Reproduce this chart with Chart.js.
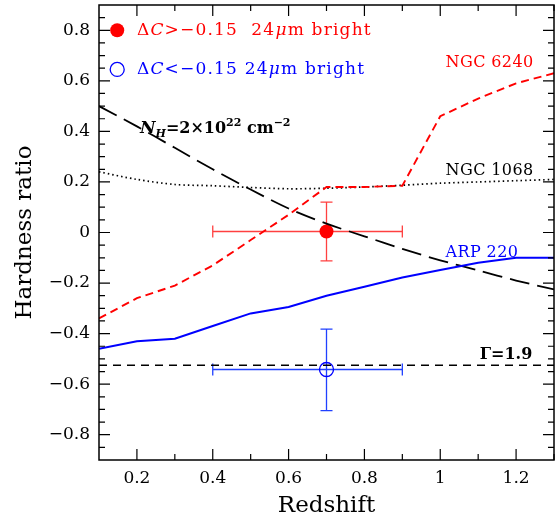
<!DOCTYPE html>
<html>
<head>
<meta charset="utf-8">
<script src="https://cdn.jsdelivr.net/npm/chart.js@4.4.1/dist/chart.umd.min.js"></script>
<style>
  html, body { margin: 0; padding: 0; background: #fff; overflow: hidden; }
  canvas { display: block; }
</style>
</head>
<body>
<canvas id="chart" width="555" height="516"></canvas>
<script>
// Data
const REDSHIFT = [0.1, 0.2, 0.3, 0.4, 0.5, 0.6, 0.7, 0.8, 0.9, 1.0, 1.1, 1.2, 1.3];
const NGC6240 = [-0.34, -0.26, -0.21, -0.13, -0.03, 0.07, 0.18, 0.18, 0.185, 0.46, 0.53, 0.59, 0.63];
const NGC1068 = [0.24, 0.21, 0.19, 0.185, 0.178, 0.173, 0.175, 0.18, 0.187, 0.195, 0.2, 0.205, 0.21];
const ARP220 = [-0.46, -0.43, -0.42, -0.37, -0.32, -0.295, -0.25, -0.215, -0.178, -0.148, -0.12, -0.1, -0.1];
const NH_MODEL = [0.5, 0.42, 0.335, 0.25, 0.17, 0.095, 0.035, -0.015, -0.065, -0.11, -0.15, -0.19, -0.225];
const GAMMA_X = [0.1, 1.3];
const GAMMA_Y = [-0.525, -0.525];

const BRIGHT = [0.7, 0.004];
const BRIGHT_XERR = [0.4, 0.9];
const BRIGHT_YERR = [-0.112, 0.12];
const FAINT = [0.7, -0.542];
const FAINT_XERR = [0.4, 0.9];
const FAINT_YERR = [-0.705, -0.382];

const X_TICKS = [0.2, 0.4, 0.6, 0.8, 1, 1.2];
const Y_TICKS = [-0.8, -0.6, -0.4, -0.2, 0, 0.2, 0.4, 0.6, 0.8];

const SERIF = "'DejaVu Serif', serif";
const RED = "#ff0000";
const BLUE = "#0000ff";

const toXY = (xs, ys) => xs.map((x, i) => ({ x, y: ys[i] }));
const fmt = (v) => (v < 0 ? "\u2212" + String(-v) : String(v));

// draw a run of text pieces with their own fonts / offsets
function drawRich(ctx, parts, x, y, color, spacing) {
  ctx.save();
  ctx.fillStyle = color;
  ctx.textBaseline = "alphabetic";
  ctx.textAlign = "left";
  ctx.letterSpacing = (spacing || 0) + "px";
  let cx = x;
  parts.forEach(([text, font, dy]) => {
    ctx.font = font;
    ctx.fillText(text, cx, y + (dy || 0));
    cx += ctx.measureText(text).width;
  });
  ctx.restore();
}

// keep the plot box where the figure has it
function noPad(s) {
  s.paddingTop = 0;
  s.paddingBottom = 0;
  s.paddingLeft = 0;
  s.paddingRight = 0;
}

const framePlugin = {
  id: "frame",
  beforeDatasetsDraw(chart) {
    const { ctx, scales } = chart;
    const xs = scales.x, ys = scales.y;
    // error bars
    const bars = [
      [BRIGHT, BRIGHT_XERR, BRIGHT_YERR, "#ff4040"],
      [FAINT, FAINT_XERR, FAINT_YERR, "#2040ff"],
    ];
    ctx.save();
    ctx.lineWidth = 1.3;
    bars.forEach(([p, xe, ye, col]) => {
      const px = xs.getPixelForValue(p[0]);
      const py = ys.getPixelForValue(p[1]);
      const x0 = xs.getPixelForValue(xe[0]);
      const x1 = xs.getPixelForValue(xe[1]);
      const y0 = ys.getPixelForValue(ye[0]);
      const y1 = ys.getPixelForValue(ye[1]);
      ctx.strokeStyle = col;
      ctx.beginPath();
      ctx.moveTo(x0, py); ctx.lineTo(x1, py);
      ctx.moveTo(x0, py - 6); ctx.lineTo(x0, py + 6);
      ctx.moveTo(x1, py - 6); ctx.lineTo(x1, py + 6);
      ctx.moveTo(px, y0); ctx.lineTo(px, y1);
      ctx.moveTo(px - 6, y0); ctx.lineTo(px + 6, y0);
      ctx.moveTo(px - 6, y1); ctx.lineTo(px + 6, y1);
      ctx.stroke();
    });
    ctx.restore();
  },
  afterDraw(chart) {
    const { ctx, chartArea: a, scales } = chart;
    const xs = scales.x, ys = scales.y;
    ctx.save();
    ctx.strokeStyle = "#000";
    ctx.lineWidth = 1.5;
    ctx.strokeRect(a.left, a.top, a.right - a.left, a.bottom - a.top);
    ctx.lineWidth = 1.2;
    ctx.beginPath();
    for (let i = 1; i <= 12; i++) {
      const v = 0.1 + i * 0.1;
      const len = i % 2 === 1 ? 11 : 6;
      const px = xs.getPixelForValue(v);
      ctx.moveTo(px, a.bottom); ctx.lineTo(px, a.bottom - len);
      ctx.moveTo(px, a.top); ctx.lineTo(px, a.top + len);
    }
    for (let i = 1; i < 36; i++) {
      const v = -0.9 + i * 0.05;
      const len = (i - 2) % 4 === 0 ? 11 : 6;
      const py = ys.getPixelForValue(v);
      ctx.moveTo(a.left, py); ctx.lineTo(a.left + len, py);
      ctx.moveTo(a.right, py); ctx.lineTo(a.right - len, py);
    }
    ctx.stroke();
    ctx.restore();

    const P = (x, y) => [xs.getPixelForValue(x), ys.getPixelForValue(y)];
    const f = (s) => s + "px " + SERIF;

    // legend
    let [lx, ly] = P(0.148, 0.8);
    ctx.save();
    ctx.fillStyle = RED;
    ctx.beginPath(); ctx.arc(lx, ly, 7, 0, Math.PI * 2); ctx.fill();
    [lx, ly] = P(0.148, 0.645);
    ctx.strokeStyle = BLUE; ctx.lineWidth = 1.3;
    ctx.beginPath(); ctx.arc(lx, ly, 7, 0, Math.PI * 2); ctx.stroke();
    ctx.restore();

    let [tx, ty] = P(0.2, 0.78);
    drawRich(ctx, [["\u0394", f(17)], ["C", "italic " + f(17)], [">\u22120.15  24", f(17)], ["\u03bc", "italic " + f(17)], ["m bright", f(17)]], tx, ty, RED, 1.2);
    [tx, ty] = P(0.2, 0.627);
    drawRich(ctx, [["\u0394", f(17)], ["C", "italic " + f(17)], ["<\u22120.15 24", f(17)], ["\u03bc", "italic " + f(17)], ["m bright", f(17)]], tx, ty, BLUE, 1.2);

    // curve labels
    [tx, ty] = P(1.014, 0.654);
    drawRich(ctx, [["NGC 6240", f(16)]], tx, ty, RED, 0.4);
    [tx, ty] = P(1.014, 0.229);
    drawRich(ctx, [["NGC 1068", f(16)]], tx, ty, "#000", 0.4);
    [tx, ty] = P(1.014, -0.097);
    drawRich(ctx, [["ARP 220", f(16)]], tx, ty, BLUE, 0.4);
    [tx, ty] = P(1.104, -0.501);
    drawRich(ctx, [["\u0393=1.9", "bold " + f(16)]], tx, ty, "#000");
    [tx, ty] = P(0.208, 0.392);
    drawRich(ctx, [
      ["N", "bold italic " + f(17)],
      ["H", "bold italic " + f(11), 4],
      ["=2\u00d710", "bold " + f(16)],
      ["22", "bold " + f(11), -7],
      [" cm", "bold " + f(16)],
      ["\u22122", "bold " + f(11), -7],
    ], tx, ty, "#000");
  },
};

const ctx = document.getElementById("chart").getContext("2d");
new Chart(ctx, {
  type: "scatter",
  data: {
    datasets: [
      {
        data: toXY(REDSHIFT, NGC6240), showLine: true, borderColor: RED,
        borderWidth: 1.9, borderDash: [8, 5], pointRadius: 0, tension: 0,
      },
      {
        data: toXY(REDSHIFT, NGC1068), showLine: true, borderColor: "#000",
        borderWidth: 1.7, borderDash: [1.5, 3], pointRadius: 0, tension: 0.3,
      },
      {
        data: toXY(REDSHIFT, ARP220), showLine: true, borderColor: BLUE,
        borderWidth: 2, pointRadius: 0, tension: 0,
      },
      {
        data: toXY(REDSHIFT, NH_MODEL), showLine: true, borderColor: "#000",
        borderWidth: 1.8, borderDash: [20, 8], pointRadius: 0, tension: 0.3,
      },
      {
        data: toXY(GAMMA_X, GAMMA_Y), showLine: true, borderColor: "#000",
        borderWidth: 1.6, borderDash: [8, 6], pointRadius: 0,
      },
      {
        data: [{ x: BRIGHT[0], y: BRIGHT[1] }], pointRadius: 7,
        pointBackgroundColor: RED, pointBorderColor: RED, pointBorderWidth: 0,
      },
      {
        data: [{ x: FAINT[0], y: FAINT[1] }], pointRadius: 7,
        pointBackgroundColor: "rgba(0,0,0,0)", pointBorderColor: BLUE, pointBorderWidth: 1.3,
      },
    ],
  },
  options: {
    responsive: false,
    animation: false,
    devicePixelRatio: 1,
    layout: { autoPadding: false, padding: { top: 5, right: 1, left: 0, bottom: 0 } },
    plugins: { legend: { display: false }, tooltip: { enabled: false } },
    scales: {
      x: {
        type: "linear", min: 0.1, max: 1.3,
        grid: { display: false, drawTicks: false },
        border: { display: false },
        afterBuildTicks: (s) => { s.ticks = X_TICKS.map((v) => ({ value: v })); },
        afterFit: (s) => { s.height = 56; noPad(s); },
        ticks: {
          padding: 8, color: "#000", font: { family: SERIF, size: 17 },
          callback: (v) => fmt(v), maxRotation: 0,
        },
        title: {
          display: true, text: "Redshift", color: "#000",
          font: { family: SERIF, size: 23 }, padding: { top: 0, bottom: -4 },
        },
      },
      y: {
        type: "linear", min: -0.9, max: 0.9,
        grid: { display: false, drawTicks: false },
        border: { display: false },
        afterBuildTicks: (s) => { s.ticks = Y_TICKS.map((v) => ({ value: v })); },
        afterFit: (s) => { s.width = 99; noPad(s); },
        ticks: {
          padding: 9, color: "#000", font: { family: SERIF, size: 17 },
          callback: (v) => fmt(Math.round(v * 10) / 10),
        },
        title: {
          display: true, text: "Hardness ratio", color: "#000",
          font: { family: SERIF, size: 23 }, padding: { top: 11, bottom: 0 },
        },
      },
    },
  },
  plugins: [framePlugin],
});
</script>
</body>
</html>
